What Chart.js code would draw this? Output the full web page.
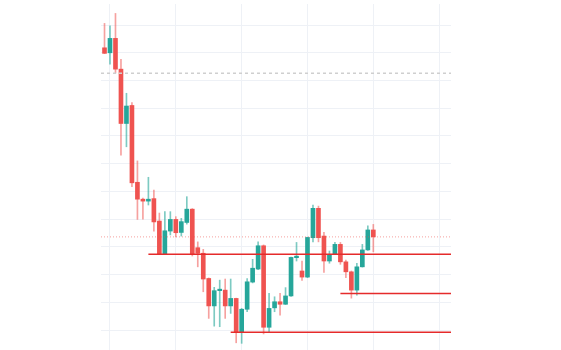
<!DOCTYPE html>
<html>
<head>
<meta charset="utf-8">
<script src="https://cdn.jsdelivr.net/npm/chart.js@4.4.1/dist/chart.umd.min.js"></script>
<style>
  html, body { margin: 0; padding: 0; background: #fff; }
  #wrap { width: 561px; height: 350px; }
</style>
</head>
<body>
<div id="wrap"><canvas id="chart"></canvas></div>
<script>
// candle values (index = bar number)
const opens  = [201.8, 200.0, 205.2, 194.1, 174.5, 181.0, 153.3, 147.2, 146.5, 147.4,
                139.3, 127.4, 135.7, 139.9, 135.2, 138.8, 143.6, 129.7, 127.7, 118.6,
                108.7, 114.2, 114.4, 108.7, 111.4, 99.4, 107.5, 117.3, 122.0, 130.4,
                101.0, 108.0, 110.2, 109.3, 112.3, 126.1, 121.3, 119.1, 133.3, 143.9,
                133.9, 124.9, 127.3, 130.9, 124.6, 121.0, 114.4, 122.8, 128.9, 136.1];
const highs  = [210.6, 209.7, 214.2, 197.6, 185.4, 182.0, 161.0, 147.6, 155.1, 150.5,
                142.2, 142.7, 142.7, 140.9, 140.3, 148.1, 143.8, 131.8, 129.1, 118.8,
                115.4, 118.0, 118.4, 118.4, 111.5, 107.8, 118.6, 125.5, 131.8, 130.7,
                113.2, 112.0, 113.2, 115.3, 126.3, 131.6, 124.9, 133.5, 145.1, 144.7,
                135.2, 128.5, 131.6, 131.6, 125.2, 121.3, 124.1, 130.9, 137.6, 138.1];
const lows   = [199.7, 195.9, 192.7, 163.1, 166.1, 151.7, 139.9, 140.0, 145.1, 135.7,
                127.2, 127.2, 134.3, 133.6, 133.9, 138.2, 126.7, 122.8, 113.8, 104.2,
                101.4, 101.2, 104.2, 106.0, 95.4, 95.2, 106.6, 117.0, 121.8, 98.6,
                99.4, 106.6, 105.4, 109.2, 112.1, 124.9, 117.9, 118.9, 131.8, 131.8,
                120.8, 124.1, 127.2, 123.7, 118.9, 111.5, 112.6, 122.7, 128.7, 128.2];
const closes = [199.8, 205.2, 194.1, 174.5, 180.8, 153.1, 147.2, 146.5, 147.2, 139.0,
                127.4, 135.8, 139.9, 135.1, 139.1, 143.6, 127.3, 127.7, 118.4, 108.7,
                114.2, 114.6, 108.7, 111.4, 99.4, 107.5, 117.4, 122.3, 130.4, 101.0,
                107.8, 110.2, 109.3, 112.3, 126.2, 126.4, 119.1, 133.4, 143.9, 133.3,
                124.9, 127.3, 130.9, 124.6, 121.0, 114.4, 122.8, 128.9, 136.1, 133.6];

// horizontal levels: price and first bar
const levelPrices = [127.3, 113.2, 99.2];
const levelStarts = [8, 43, 23];
const upperLevel = 192.6;

// grid positions
const xGrid = [1, 13, 25, 37, 49, 61];
const yGrid = [100, 110, 120, 130, 140, 150, 160, 170, 180, 190, 200, 210];

const X_MIN = -0.64, X_MAX = 63.16;
const Y_MIN = 92.8, Y_MAX = 217.6;

const UP = '#26a69a';
const DOWN = '#ef5350';

const isUp = closes.map((c, i) => c >= opens[i]);

const wickData = highs.map((h, i) => ({ x: i, y: [lows[i], h] }));
const bodyData = opens.map((o, i) => ({ x: i, y: [o, closes[i]] }));

const datasets = [];

levelPrices.forEach((p, k) => {
    datasets.push({
        type: 'line',
        data: [{ x: levelStarts[k], y: p }, { x: X_MAX, y: p }],
        borderColor: '#e52b2b',
        borderWidth: 1.5,
        pointRadius: 0,
        order: 0
    });
});

datasets.push({
    type: 'line',
    data: [{ x: X_MIN, y: upperLevel }, { x: X_MAX, y: upperLevel }],
    borderColor: '#cfcfcf',
    borderWidth: 1.5,
    borderDash: [3, 3],
    pointRadius: 0,
    order: 0
});

// last price line
datasets.push({
    type: 'line',
    data: [{ x: X_MIN, y: closes[closes.length - 1] }, { x: X_MAX, y: closes[closes.length - 1] }],
    borderColor: 'rgba(239,83,80,0.55)',
    borderWidth: 1,
    borderDash: [1, 2],
    pointRadius: 0,
    order: 0
});

datasets.push({
    type: 'bar',
    data: bodyData,
    backgroundColor: isUp.map(u => u ? UP : DOWN),
    barThickness: 4,
    minBarLength: 1.5,
    order: 1
});

datasets.push({
    type: 'bar',
    data: wickData,
    backgroundColor: isUp.map(u => u ? 'rgba(38,166,154,0.6)' : 'rgba(239,83,80,0.55)'),
    barThickness: 1,
    order: 2
});

new Chart(document.getElementById('chart'), {
    type: 'bar',
    data: { datasets },
    options: {
        responsive: true,
        maintainAspectRatio: false,
        animation: false,
        datasets: { bar: { grouped: false } },
        layout: { padding: { left: 101, right: 110, top: 4, bottom: 0 } },
        plugins: {
            legend: { display: false },
            tooltip: { enabled: false }
        },
        scales: {
            x: {
                type: 'linear',
                min: X_MIN,
                max: X_MAX,
                offset: false,
                afterBuildTicks: axis => { axis.ticks = xGrid.map(v => ({ value: v })); },
                grid: { color: '#eef1f6', drawTicks: false, offset: false },
                border: { display: false },
                ticks: { display: false }
            },
            y: {
                min: Y_MIN,
                max: Y_MAX,
                afterBuildTicks: axis => { axis.ticks = yGrid.map(v => ({ value: v })); },
                grid: { color: '#eef1f6', drawTicks: false },
                border: { display: false },
                ticks: { display: false }
            }
        }
    }
});
</script>
</body>
</html>
